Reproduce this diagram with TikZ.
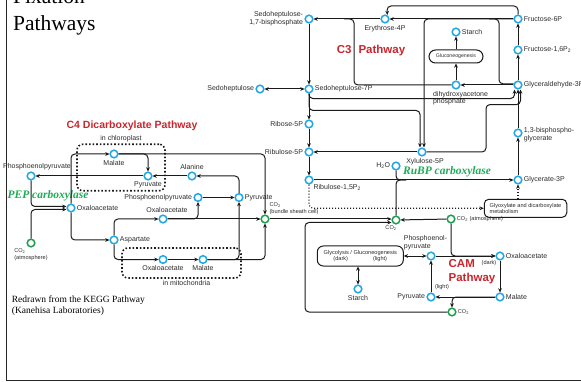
\documentclass[tikz,border=0pt]{standalone}
\usepackage{fontspec}
\setmainfont{Liberation Serif}
\setsansfont{Liberation Sans}
\usepackage{xcolor}
\usepackage{tikz}
\usetikzlibrary{
  arrows.meta,
  positioning,
  calc
}
\definecolor{kgMet}{HTML}{1EA7E4}
\definecolor{kgGas}{HTML}{1C9E4B}
\definecolor{kgPath}{HTML}{C8262D}
\definecolor{kgEnz}{HTML}{1FAA57}
\definecolor{kgInk}{HTML}{2B2B2B}
\definecolor{kgLine}{HTML}{1A1A1A}
\tikzset{
  met/.style={
    draw=kgMet, circle, line width=1.5pt, fill=white,
    minimum size=7.6pt, inner sep=0pt
  },
  gas/.style={met, draw=kgGas},
  lab/.style={font=\sffamily\fontsize{7}{7.8}\selectfont, text=kgInk, inner sep=1.2pt},
  labs/.style={font=\sffamily\fontsize{5.6}{6.4}\selectfont, text=kgInk, inner sep=1.2pt},
  procbox/.style={
    draw=kgLine, rounded corners=5pt, line width=1pt, align=center,
    font=\sffamily\fontsize{5.6}{6.6}\selectfont, text=kgInk
  },
  region/.style={draw=kgLine, dotted, line width=1.6pt, rounded corners=6pt},
  pathname/.style={font=\sffamily\bfseries\fontsize{11.5}{14.3}\selectfont, text=kgPath, align=left},
  enzyme/.style={font=\rmfamily\bfseries\itshape\fontsize{11.5}{13}\selectfont, text=kgEnz},
  heading/.style={font=\rmfamily\fontsize{21.5}{27}\selectfont, inner sep=0pt},
  note/.style={font=\rmfamily\fontsize{9.5}{11}\selectfont, align=left, inner sep=0pt},
  rxn/.style={-{Stealth[length=4.2pt,width=3.8pt]}, line width=1pt, draw=kgLine, rounded corners=4pt},
  link/.style={line width=1pt, draw=kgLine, rounded corners=4pt},
  dotrxn/.style={rxn, dotted, line width=1.1pt},
  twoway/.style={{Stealth[length=4.2pt,width=3.8pt]}-{Stealth[length=4.2pt,width=3.8pt]}, line width=1pt, draw=kgLine},
  border/.style={line width=1.6pt, draw=black!85}
}

\begin{document}
\begin{tikzpicture}[x=1pt, y=-1pt]
  \useasboundingbox (0,0) rectangle (581,382);
  \draw[border] (6.5,-5) -- (6.5,380.5) -- (590,380.5);
  \node[heading, anchor=base west] (ttl1) at (13,4) {Fixation};
  \node[heading, anchor=base west] (ttl2) at (13,31) {Pathways};
  \node[note, anchor=north west] (credit) at (11.7,295.5) {Redrawn from the KEGG Pathway\\(Kanehisa Laboratories)};

  \node[region, minimum width=88pt, minimum height=46.5pt, label={[lab]above:in chloroplast}] (chloro) at (121,167.5) {};
  \node[region, minimum width=119pt, minimum height=30pt, label={[lab, xshift=5pt]below:in mitochondria}] (mito) at (181.5,263) {};

  \node[pathname, font=\sffamily\bfseries\fontsize{10.5}{12}\selectfont] (c4name) at (132,126) {C4 Dicarboxylate Pathway};
  \node[pathname] (c3name) at (371,51) {C3\hspace{7pt}Pathway};
  \node[pathname] (camname) at (472,272) {CAM\\Pathway};
  \node[enzyme] (pepc) at (48,196) {PEP carboxylase};
  \node[enzyme] (rubisco) at (447,172) {RuBP carboxylase};

  % C3 cycle
  \node[met, label={[lab, align=right]left:{Sedoheptulose-\\1,7-bisphosphate}}] (s17) at (309,19) {};
  \node[met, label={[lab]below:Erythrose-4P}] (e4p) at (385,19) {};
  \node[met, label={[lab]right:Fructose-6P}] (f6p) at (518,19) {};
  \node[met, label={[lab]right:Starch}] (sta1) at (456,32) {};
  \node[procbox, font=\sffamily\fontsize{5.2}{6}\selectfont, rounded corners=6.5pt, minimum width=54pt, minimum height=13pt] (glu) at (456,56.5) {Gluconeogenesis};
  \node[met, label={[lab]right:{Fructose-1,6P\textsubscript{2}}}] (f16) at (518,50) {};
  \node[met, label={[lab, align=left, xshift=4.5pt]below:{dihydroxyacetone\\phosphate}}] (dhap) at (456,85) {};
  \node[met, label={[lab]right:Glyceraldehyde-3P}] (gap) at (518,85) {};
  \node[met, label={[lab]right:Sedoheptulose-7P}] (s7p) at (309,89) {};
  \node[met, label={[lab]left:Sedoheptulose}] (sed) at (260,89) {};
  \node[met, label={[lab]left:Ribose-5P}] (r5p) at (309,124) {};
  \node[met, label={[lab]left:Ribulose-5P}] (ru5p) at (309,152) {};
  \node[met, label={[lab]below right:{Ribulose-1,5P\textsubscript{2}}}] (rubp) at (309,180) {};
  \node[met, label={[lab]left:H\textsubscript{2}O}] (h2o) at (396,166) {};
  \node[met, label={[lab, xshift=3pt]below:Xylulose-5P}] (xu5p) at (422,152) {};
  \node[met, label={[lab, align=left, yshift=-2pt]right:{1,3-bisphospho-\\glycerate}}] (bpg) at (518,133) {};
  \node[met, label={[lab]right:Glycerate-3P}] (g3p) at (518,180) {};
  \node[procbox, align=left, minimum width=82.5pt, minimum height=18pt, rounded corners=4.5pt] (glx) at (525.5,208.3) {Glyoxylate and dicarboxylate\\metabolism};
  \node[gas, label={[labs]right:CO\textsubscript{2} (atmosphere)}] (co2r) at (451,219) {};
  \node[gas, label={[labs, xshift=-5pt]below:CO\textsubscript{2}}] (co2c) at (396,220) {};

  % CAM
  \node[met, label={[lab, align=left, xshift=-5.5pt]above:{Phosphoenol-\\pyruvate}}] (pep3) at (431,256) {};
  \node[met, label={[lab]right:Oxaloacetate}] (oaa4) at (500,256) {};
  \node[met, label={[lab]right:Malate}] (mal3) at (500,297) {};
  \node[met, label={[lab]left:Pyruvate}] (pyr3) at (431,297) {};
  \node[gas, label={[labs]right:CO\textsubscript{2}}] (co2d) at (452,312) {};
  \node[procbox, minimum width=86pt, minimum height=20pt, rounded corners=6pt] (glyc) at (360.3,256) {Glycolysis / Gluconeogenesis\\(dark)\hspace{25pt}(light)};
  \node[met, label={[lab]below:Starch}] (sta2) at (358,289) {};
  \node[labs] (dark) at (489,263) {(dark)};
  \node[labs] (light) at (442,287.5) {(light)};

  % C4
  \node[met, label={[lab]below:Malate}] (mal1) at (114,154) {};
  \node[met, label={[lab]below:Pyruvate}] (pyr1) at (148,176) {};
  \node[met, label={[lab, xshift=6pt]above:Phosphoenolpyruvate}] (pep1) at (31,176) {};
  \node[met, label={[lab]right:Oxaloacetate}] (oaa1) at (71,208) {};
  \node[gas, label={[labs, align=left]below:{CO\textsubscript{2}\\(atmosphere)}}] (co2a) at (31,243) {};
  \node[met, label={[lab]above:Alanine}] (ala) at (192,176) {};
  \node[met, label={[lab]left:Phosphoenolpyruvate}] (pep2) at (198,197.5) {};
  \node[met, label={[lab]right:Pyruvate}] (pyr2) at (239,197.5) {};
  \node[met, label={[lab, xshift=4pt]above:Oxaloacetate}] (oaa2) at (163,219) {};
  \node[gas, label={[labs, align=left]above right:{CO\textsubscript{2}\\(bundle sheath cell)}}] (co2b) at (265,219) {};
  \node[met, label={[lab]right:Aspartate}] (asp) at (114,240) {};
  \node[met, label={[lab]below:Oxaloacetate}] (oaa3) at (163,259.5) {};
  \node[met, label={[lab]below:Malate}] (mal2) at (203,259.5) {};

  \draw[rxn] (f6p) -- (e4p);
  \draw[rxn] (e4p) -- (s17);
  \draw[rxn] (f6p.north) |- (387,6) -- (e4p.60);
  \draw[rxn] (gap) -- (f16); \draw[rxn] (f16) -- (f6p);
  \draw[rxn] (g3p) -- (bpg); \draw[rxn] (bpg) -- (gap);
  \draw[rxn] (gap) -- (dhap);
  \draw[rxn] (dhap) -- (glu); \draw[rxn] (glu) -- (sta1);
  \draw[link] (dhap.west) -| (354,19) -- (344,19);
  \draw[link] (gap.165) -| (499,19) -- (489,19);
  \draw[rxn] (f6p.west) -| ([xshift=2pt]xu5p.north);
  \draw[rxn] (s17) -- (s7p);
  \draw[twoway] (sed) -- (s7p);
  \draw[rxn] (s7p) -- (r5p);
  \draw[rxn] (s7p.south) |- ([xshift=-3.5pt,yshift=-9pt]gap.south) -- ([xshift=-3.5pt]gap.south);
  \draw[rxn] (s7p.south) |- ([xshift=-2pt,yshift=37pt]xu5p.north) -- ([xshift=-2pt]xu5p.north);
  \draw[rxn] (xu5p) -- (ru5p);
  \draw[rxn] (xu5p.east) -- (486,152) |- ([xshift=2.5pt,yshift=-15pt]gap.south) -- ([xshift=2.5pt]gap.south);
  \draw[rxn] (r5p) -- (ru5p); \draw[rxn] (ru5p) -- (rubp);
  \draw[rxn] (rubp) -- (g3p);
  \draw[link] (h2o.south) |- (406,180);
  \draw[link] (co2c.north) |- (406,180);
  \draw[dotrxn] (rubp.south) |- (glx.west);
  \draw[dotrxn] (g3p |- glx.north) -- (g3p);
  \draw[rxn] (co2r) -- (co2c);
  \draw[rxn] (co2b) -- (co2b -| co2c.west);
  \draw[rxn] (co2d.west) -| (305,222.5) -- ([yshift=-2.5pt]co2c.west);

  \draw[rxn] (pep3) -- (oaa4);
  \draw[rxn] (co2r) |- (oaa4);
  \draw[rxn] (oaa4) -- (mal3);
  \draw[rxn] (mal3) -- (pyr3);
  \draw[rxn] (mal3) -| (co2d);
  \draw[rxn] (pyr3) -- (pep3);
  \draw[twoway] (glyc) -- (pep3);
  \draw[twoway] (sta2 |- glyc.south) -- (sta2);

  \draw[rxn] (oaa1) |- (mal1);
  \draw[rxn] (oaa1) |- (asp);
  \draw[rxn] (pep1) |- ([yshift=1.5pt]oaa1.west);
  \draw[rxn] (co2a) |- ([yshift=-1.5pt]oaa1.west);
  \draw[rxn] (mal1) -| (pyr1);
  \draw[rxn] (mal1) -| (co2b);
  \draw[rxn] (pyr1) -- (pep1);
  \draw[rxn] (ala) -- (pyr1);
  \draw[rxn] (pyr2) |- (ala);
  \draw[rxn] (oaa2) -- (co2b);
  \draw[rxn] (oaa2) -| (pep2);
  \draw[rxn] (pep2) -- (pyr2);
  \draw[rxn] (asp) |- (oaa2);
  \draw[rxn] (asp) |- (oaa3);
  \draw[rxn] (oaa3) -- (mal2);
  \draw[rxn] (mal2) -| (co2b);
  \draw[rxn] (mal2) -| (pyr2);
\end{tikzpicture}
\end{document}
